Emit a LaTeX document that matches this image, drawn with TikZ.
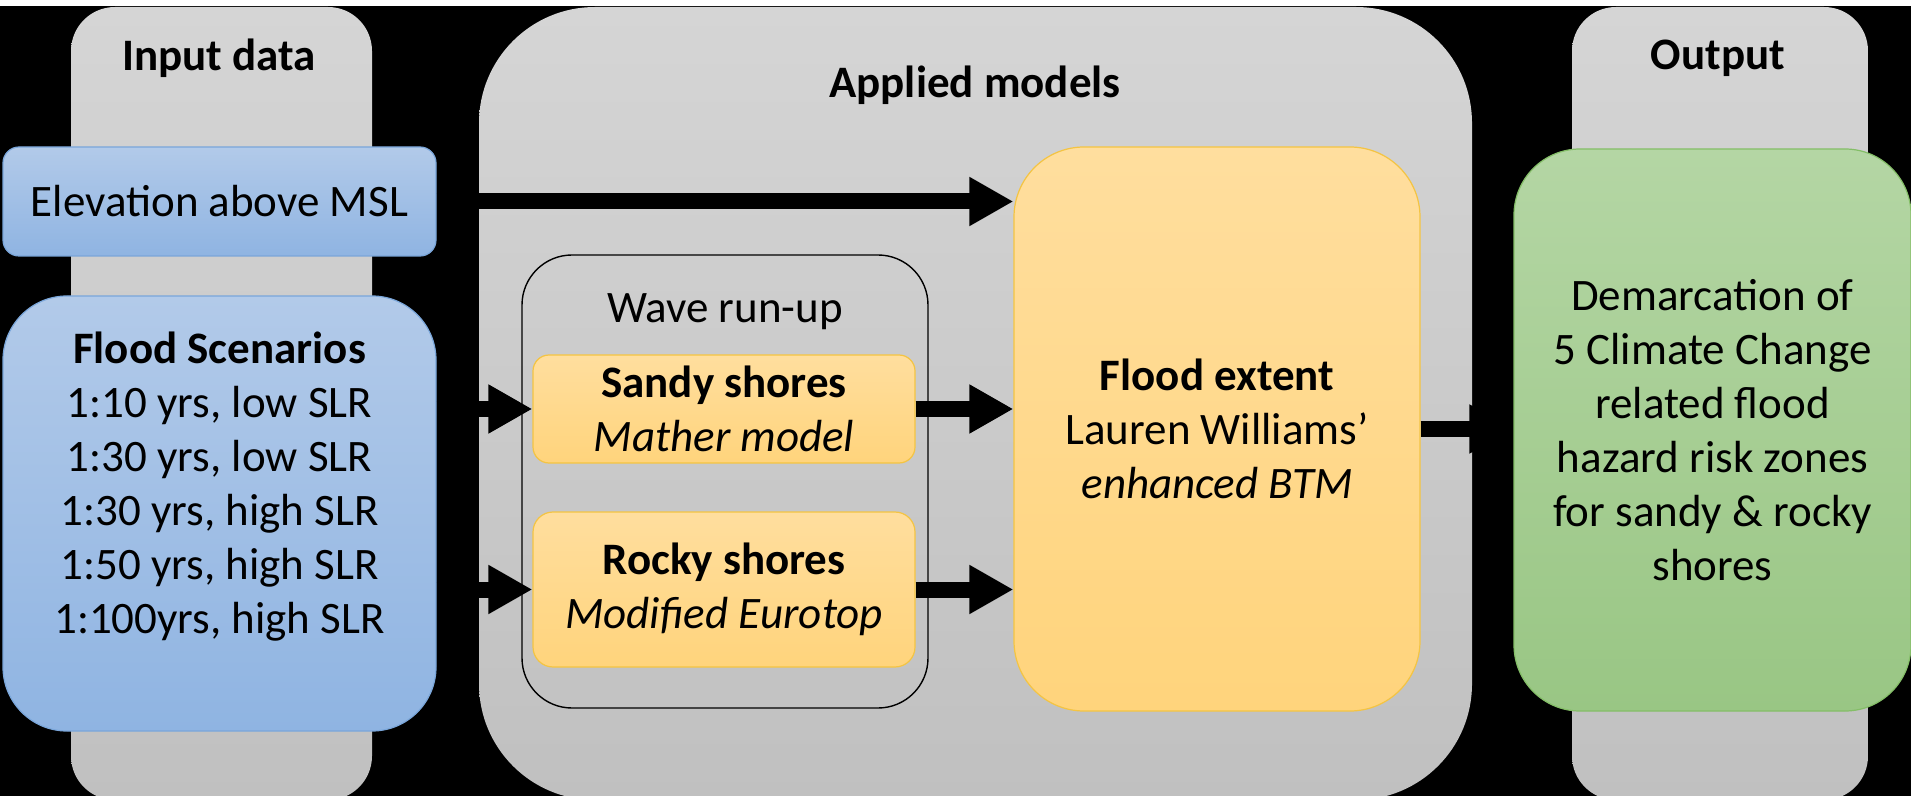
\documentclass[tikz,border=0pt]{standalone}
\usepackage{fontspec}
\setmainfont{Carlito}
\usepackage{xcolor}
\usepackage{tikz}
\usetikzlibrary{arrows.meta,positioning,calc}

\definecolor{lanetop}{HTML}{D5D5D5}
\definecolor{lanebot}{HTML}{C0C0C0}
\definecolor{bluetop}{HTML}{B2CAE9}
\definecolor{bluebot}{HTML}{8FB4E2}
\definecolor{blueline}{HTML}{7AA6DA}
\definecolor{yeltop}{HTML}{FFDE9E}
\definecolor{yelbot}{HTML}{FFD47C}
\definecolor{yelline}{HTML}{F4C443}
\definecolor{greentop}{HTML}{B4D6A4}
\definecolor{greenbot}{HTML}{99C684}
\definecolor{greenline}{HTML}{84BE67}

\begin{document}
\begin{tikzpicture}[x=0.5pt,y=-0.5pt,
    every node/.style={font=\fontsize{22.5}{27}\selectfont, align=center, inner sep=0pt},
    lane/.style={top color=lanetop, bottom color=lanebot, minimum height=396.5pt},
    bluebox/.style={top color=bluetop, bottom color=bluebot, draw=blueline, line width=0.6pt, minimum width=216.5pt},
    yelbox/.style={top color=yeltop, bottom color=yelbot, draw=yelline, line width=0.6pt},
    greenbox/.style={top color=greentop, bottom color=greenbot, draw=greenline, line width=0.6pt},
    flow/.style={line width=8pt, -{Triangle[length=22pt,width=23pt]}}]
    % canvas
    \useasboundingbox (0,0) rectangle (1911,796);
    \clip (0,0) rectangle (1911,796);
    \fill[white] (0,0) rectangle (1911,796);
    \fill[black] (0,6) rectangle (1911,796);

    % lanes
    \node[lane, rounded corners=22pt, minimum width=150.5pt] (inlane) at (221.5,403.5) {};
    \node[lane, rounded corners=58pt, minimum width=496.5pt] (applane) at (975.5,403.5) {};
    \node[lane, rounded corners=22pt, minimum width=148pt] (outlane) at (1720,403.5) {};
    \node[font=\fontsize{22.5}{27}\selectfont\bfseries] (intitle) at (219,58) {Input data};
    \node[font=\fontsize{22.5}{27}\selectfont\bfseries] (apptitle) at (975,85) {Applied models};
    \node[font=\fontsize{22.5}{27}\selectfont\bfseries] (outtitle) at (1718,58) {Output};

    % input data
    \node[bluebox, rounded corners=8pt, minimum height=54.5pt] (elev) at (219.5,201.5) {Elevation above MSL};
    \node[bluebox, rounded corners=32pt, minimum height=217.5pt] (scen) at (219.5,513.5) {};
    \node (scentext) at ($(scen.center)+(0,-27)$) {\textbf{Flood Scenarios}\\1:10 yrs, low SLR\\1:30 yrs, low SLR\\1:30 yrs, high SLR\\1:50 yrs, high SLR\\1:100yrs, high SLR};

    % applied models
    \node[draw=black, line width=0.7pt, rounded corners=25pt, minimum width=203pt, minimum height=226.5pt] (wave) at (725,481.5) {};
    \node (wavetitle) at (725,312) {Wave run-up};
    \node[yelbox, rounded corners=8pt, minimum width=191pt, minimum height=54pt] (sandy) at (724,409) {\textbf{Sandy shores}\\\textit{Mather model}};
    \node[yelbox, rounded corners=10pt, minimum width=191pt, minimum height=77.5pt] (rocky) at (724,589.5) {\textbf{Rocky shores}\\\textit{Modified Eurotop}};
    \node[yelbox, rounded corners=35pt, minimum width=203pt, minimum height=282pt] (extent) at (1217,429) {\textbf{Flood extent}\\Lauren Williams'\\\textit{enhanced BTM}};

    % output
    \node[greenbox, rounded corners=33pt, minimum width=198.5pt, minimum height=281pt] (zones) at (1712.5,430) {Demarcation of\\5 Climate Change\\related flood\\hazard risk zones\\for sandy \& rocky\\shores};

    % arrows
    \draw[flow] (elev.east) -- (elev.east -| extent.west);
    \draw[flow] (scen.east |- sandy.west) -- (sandy.west);
    \draw[flow] (scen.east |- rocky.west) -- (rocky.west);
    \draw[flow] (sandy.east) -- (sandy.east -| extent.west);
    \draw[flow] (rocky.east) -- (rocky.east -| extent.west);
    \draw[flow] (extent.east) -- (extent.east -| zones.west);
\end{tikzpicture}
\end{document}
